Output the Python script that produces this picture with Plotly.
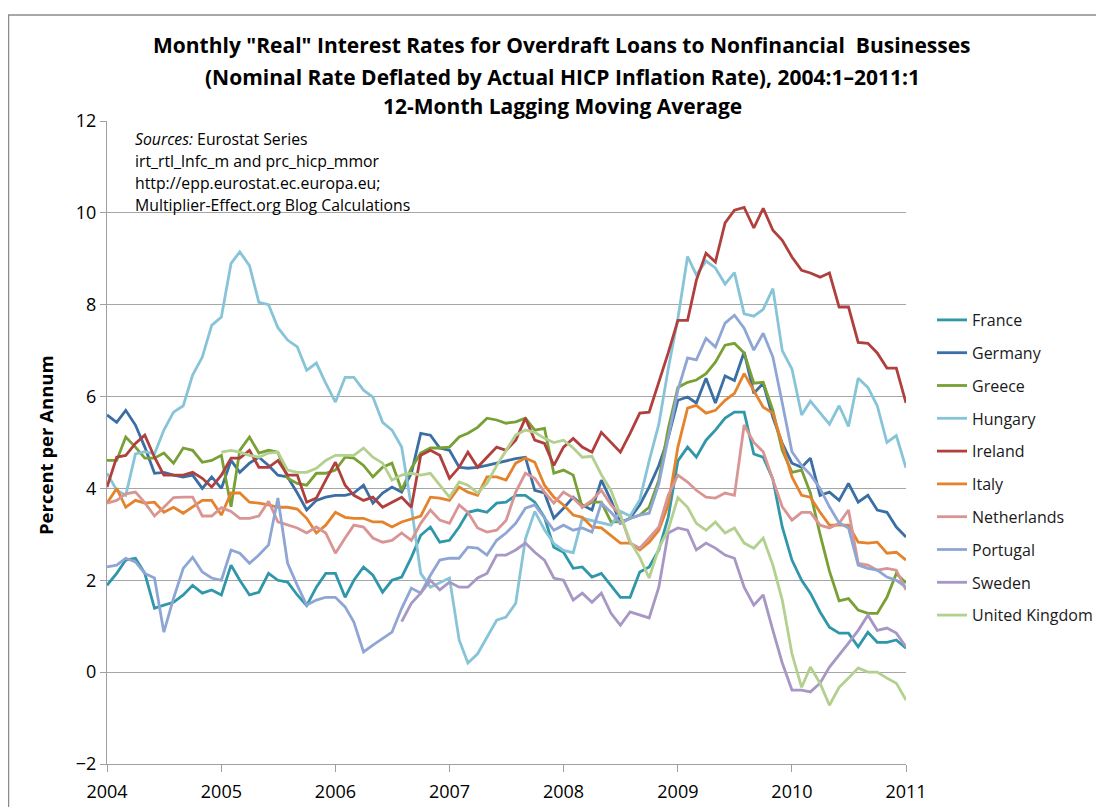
import plotly.graph_objects as go
import pandas as pd

months = pd.date_range("2004-01-01", "2011-01-01", freq="MS")

france = [1.89, 2.15, 2.44, 2.48, 2.15, 1.39, 1.46, 1.52, 1.68, 1.89, 1.72, 1.79,
          1.68, 2.33, 2.0, 1.68, 1.74, 2.15, 2.0, 1.96, 1.68, 1.45, 1.85, 2.15,
          2.15, 1.63, 2.0, 2.29, 2.11, 1.74, 2.0, 2.07, 2.5, 2.98, 3.16, 2.83,
          2.87, 3.16, 3.48, 3.53, 3.48, 3.68, 3.7, 3.85, 3.85, 3.7, 3.37, 2.72,
          2.61, 2.26, 2.29, 2.07, 2.15, 1.89, 1.63, 1.63, 2.18, 2.29, 2.66, 3.37,
          4.6, 4.9, 4.68, 5.05, 5.27, 5.53, 5.66, 5.66, 4.75, 4.68, 4.2, 3.16,
          2.44, 2.0, 1.72, 1.31, 0.98, 0.85, 0.85, 0.55, 0.87, 0.65, 0.65, 0.7, 0.52]

germany = [5.6, 5.44, 5.7, 5.38, 4.9, 4.33, 4.35, 4.29, 4.25, 4.29, 4.0, 4.25,
           4.0, 4.61, 4.35, 4.55, 4.68, 4.5, 4.29, 4.25, 3.9, 3.53, 3.74, 3.81,
           3.85, 3.85, 3.9, 4.07, 3.68, 3.9, 4.03, 3.92, 4.33, 5.2, 5.16, 4.88,
           4.83, 4.46, 4.44, 4.46, 4.5, 4.55, 4.61, 4.65, 4.68, 3.96, 3.9, 3.35,
           3.57, 3.81, 3.64, 3.53, 4.18, 3.74, 3.24, 3.35, 3.64, 4.03, 4.5, 5.1,
           5.92, 5.99, 5.86, 6.4, 5.86, 6.45, 6.35, 6.97, 6.07, 6.29, 5.55, 4.98,
           4.55, 4.46, 4.66, 3.85, 3.92, 3.74, 4.11, 3.7, 3.85, 3.53, 3.48, 3.16, 2.94]

greece = [4.61, 4.61, 5.12, 4.9, 4.66, 4.66, 4.77, 4.55, 4.88, 4.83, 4.57, 4.61,
          4.72, 3.6, 4.83, 5.12, 4.77, 4.83, 4.79, 4.22, 4.11, 4.07, 4.33, 4.33,
          4.4, 4.68, 4.66, 4.5, 4.25, 4.46, 4.55, 3.96, 4.44, 4.77, 4.88, 4.88,
          4.9, 5.12, 5.2, 5.33, 5.53, 5.49, 5.42, 5.45, 5.53, 5.27, 5.31, 4.33,
          4.4, 4.29, 3.59, 3.7, 3.7, 3.27, 3.27, 3.35, 3.42, 3.59, 4.18, 5.3,
          6.2, 6.31, 6.36, 6.5, 6.75, 7.12, 7.16, 6.95, 6.29, 6.31, 5.7, 4.83,
          4.35, 4.4, 3.9, 3.0, 2.2, 1.55, 1.6, 1.35, 1.28, 1.28, 1.63, 2.15, 1.94]

hungary = [4.33, 3.96, 3.85, 4.75, 4.8, 4.75, 5.27, 5.66, 5.8, 6.47, 6.86, 7.55,
           7.73, 8.9, 9.15, 8.85, 8.05, 8.0, 7.5, 7.23, 7.08, 6.57, 6.73, 6.29,
           5.88, 6.42, 6.42, 6.14, 5.99, 5.44, 5.27, 4.9, 3.6, 2.15, 1.85, 1.95,
           2.05, 0.7, 0.2, 0.4, 0.77, 1.13, 1.2, 1.5, 2.9, 3.5, 3.1, 2.8,
           2.65, 2.6, 3.35, 3.3, 3.25, 3.2, 3.5, 3.4, 3.75, 4.6, 5.4, 6.6,
           7.7, 9.05, 8.65, 8.95, 8.8, 8.45, 8.7, 7.8, 7.75, 7.9, 8.35, 7.0,
           6.6, 5.6, 5.9, 5.65, 5.4, 5.8, 5.35, 6.4, 6.2, 5.8, 5.0, 5.15, 4.45]

ireland = [4.03, 4.68, 4.72, 4.98, 5.16, 4.68, 4.29, 4.29, 4.29, 4.35, 4.22, 4.03,
           4.29, 4.66, 4.66, 4.83, 4.46, 4.46, 4.61, 4.29, 4.29, 3.7, 3.79, 4.18,
           4.57, 4.07, 3.85, 3.74, 3.81, 3.59, 3.7, 3.81, 3.59, 4.72, 4.83, 4.72,
           4.22, 4.46, 4.79, 4.46, 4.68, 4.9, 4.83, 5.05, 5.53, 5.05, 4.98, 4.5,
           4.9, 5.09, 4.9, 4.79, 5.22, 5.0, 4.79, 5.2, 5.64, 5.66, 6.3, 6.95,
           7.66, 7.66, 8.53, 9.12, 8.93, 9.78, 10.06, 10.12, 9.67, 10.1, 9.62, 9.4,
           9.04, 8.75, 8.69, 8.6, 8.69, 7.95, 7.95, 7.18, 7.16, 6.95, 6.62, 6.62, 5.86]

italy = [3.68, 4.0, 3.59, 3.74, 3.68, 3.7, 3.48, 3.59, 3.46, 3.59, 3.74, 3.74,
         3.42, 3.9, 3.9, 3.7, 3.68, 3.64, 3.59, 3.59, 3.55, 3.35, 3.03, 3.2,
         3.48, 3.37, 3.35, 3.35, 3.27, 3.27, 3.16, 3.27, 3.33, 3.4, 3.81, 3.79,
         3.74, 4.03, 3.92, 3.85, 4.25, 4.25, 4.18, 4.55, 4.66, 4.57, 4.07, 3.81,
         3.64, 3.42, 3.37, 3.16, 3.14, 2.98, 2.81, 2.81, 2.66, 2.83, 3.09, 3.64,
         4.9, 5.75, 5.81, 5.64, 5.7, 5.92, 6.07, 6.5, 6.14, 5.77, 5.64, 4.98,
         4.25, 3.85, 3.81, 3.48, 3.2, 3.2, 3.2, 2.83, 2.81, 2.83, 2.59, 2.61, 2.44]

netherlands = [3.68, 3.74, 3.88, 3.92, 3.69, 3.4, 3.59, 3.8, 3.81, 3.81, 3.4, 3.4,
               3.58, 3.5, 3.35, 3.35, 3.4, 3.72, 3.27, 3.2, 3.14, 3.03, 3.16, 3.03,
               2.59, 2.92, 3.2, 3.16, 2.92, 2.83, 2.87, 3.03, 2.87, 3.24, 3.53, 3.31,
               3.24, 3.64, 3.48, 3.14, 3.05, 3.09, 3.3, 3.92, 4.33, 4.22, 3.92, 3.68,
               3.92, 3.79, 3.59, 3.74, 3.96, 3.64, 3.42, 2.81, 2.7, 2.92, 3.16, 3.85,
               4.29, 4.14, 3.96, 3.81, 3.79, 3.9, 3.85, 5.38, 5.0, 4.8, 4.2, 3.6,
               3.31, 3.48, 3.48, 3.2, 3.14, 3.24, 3.53, 2.37, 2.33, 2.22, 2.26, 2.22, 1.79]

portugal = [2.29, 2.33, 2.48, 2.4, 2.15, 2.05, 0.87, 1.61, 2.26, 2.5, 2.18, 2.05,
            2.0, 2.66, 2.59, 2.37, 2.55, 2.77, 3.79, 2.37, 1.89, 1.46, 1.57, 1.63,
            1.63, 1.42, 1.09, 0.44, 0.59, 0.74, 0.87, 1.39, 1.83, 1.72, 2.11, 2.44,
            2.48, 2.48, 2.72, 2.7, 2.55, 2.87, 3.03, 3.24, 3.57, 3.64, 3.37, 3.09,
            3.2, 3.09, 3.14, 3.05, 3.68, 3.48, 3.24, 3.35, 3.42, 3.46, 4.1, 5.1,
            6.14, 6.84, 6.8, 7.27, 7.08, 7.6, 7.77, 7.49, 7.01, 7.38, 6.86, 5.86,
            4.8, 4.5, 4.3, 4.0, 3.6, 3.25, 3.14, 2.33, 2.26, 2.22, 2.07, 2.0, 1.85]

sweden = [None] * 31 + [1.1, 1.5, 1.72, 2.0, 1.79,
          1.96, 1.85, 1.85, 2.05, 2.15, 2.55, 2.55, 2.66, 2.81, 2.61, 2.44, 2.05,
          2.0, 1.57, 1.72, 1.52, 1.72, 1.28, 1.02, 1.31, 1.24, 1.18, 1.85, 3.03,
          3.14, 3.09, 2.66, 2.81, 2.7, 2.55, 2.48, 1.85, 1.46, 1.68, 0.91, 0.2,
          -0.39, -0.39, -0.43, -0.24, 0.11, 0.37, 0.63, 0.91, 1.24, 0.91, 0.96, 0.85, 0.55]

united_kingdom = [None] * 12 + [4.79, 4.83, 4.79, 4.72, 4.68, 4.77, 4.79, 4.4, 4.35, 4.35, 4.44, 4.61,
                  4.72, 4.72, 4.72, 4.88, 4.68, 4.55, 4.18, 4.29, 4.33, 4.29, 4.33, 4.07,
                  3.81, 4.14, 4.07, 3.9, 4.11, 4.5, 4.83, 5.16, 5.27, 5.22, 5.09, 5.0,
                  5.05, 4.88, 4.68, 4.7, 4.3, 3.95, 3.42, 2.85, 2.5, 2.05, 2.7, 3.1,
                  3.8, 3.59, 3.24, 3.09, 3.27, 3.03, 3.14, 2.81, 2.7, 2.92, 2.33, 1.57,
                  0.4, -0.33, 0.11, -0.24, -0.72, -0.33, -0.13, 0.09, 0.0, 0.0, -0.13, -0.24, -0.61]

series_names = ["France", "Germany", "Greece", "Hungary", "Ireland", "Italy",
                "Netherlands", "Portugal", "Sweden", "United Kingdom"]
series_values = [france, germany, greece, hungary, ireland, italy,
                 netherlands, portugal, sweden, united_kingdom]
series_colors = ["#2f97a9", "#3a6ea5", "#78a035", "#88c4d8", "#b0403e", "#e5832d",
                 "#d99594", "#8fa6d4", "#a797c4", "#b3d08f"]

y_ticks = [-2, 0, 2, 4, 6, 8, 10, 12]
x_tick_labels = ["2004", "2005", "2006", "2007", "2008", "2009", "2010", "2011"]

FONT = "Open Sans"

# page body has an 8px margin: work in screen coordinates and shift
OFF = 8
W, H = 1104 - OFF, 807 - OFF
PL, PR, PT, PB = 107 - OFF, 906 - OFF, 121 - OFF, 764 - OFF
PW, PH = PR - PL, PB - PT


def px(xs):
    return (xs - OFF - PL) / PW


def py(ys):
    return (PB - (ys - OFF)) / PH


fig = go.Figure()
for name, vals, col in zip(series_names, series_values, series_colors):
    fig.add_trace(go.Scatter(
        x=months, y=vals, mode="lines", name=name, legendgroup=name,
        line=dict(color=col, width=2.8), connectgaps=False,
    ))

tick_dates = [pd.Timestamp(f"{y}-01-01") for y in x_tick_labels]

fig.update_layout(
    width=W, height=H,
    margin=dict(l=PL, r=W - PR, t=PT, b=H - PB, autoexpand=False),
    paper_bgcolor="white", plot_bgcolor="white",
    font=dict(family=FONT, color="#000000"),
    showlegend=True,
    legend=dict(xref="container", yref="container",
                x=(932 - OFF) / W, y=1 - (303 - OFF) / H,
                xanchor="left", yanchor="top",
                font=dict(size=16, family=FONT, color="#1a1a1a"),
                tracegroupgap=9, itemwidth=30, bgcolor="rgba(0,0,0,0)"),
    xaxis=dict(
        type="date", automargin=False,
        range=[tick_dates[0], tick_dates[-1]],
        tickvals=tick_dates, ticktext=x_tick_labels,
        showgrid=False, showline=True, linecolor="#a0a0a0", linewidth=1,
        ticks="outside", ticklen=7, tickcolor="#a0a0a0",
        tickfont=dict(size=18, family=FONT, color="#000"),
        ticklabelstandoff=4,
        zeroline=False,
    ),
    yaxis=dict(
        automargin=False,
        range=[-2, 12], tickvals=y_ticks,
        showgrid=True, gridcolor="#a6a6a6", gridwidth=1,
        showline=True, linecolor="#a0a0a0", linewidth=1,
        ticks="outside", ticklen=6, tickcolor="#a0a0a0",
        tickfont=dict(size=18, family=FONT, color="#000"),
        ticklabelstandoff=0,
        zeroline=False,
    ),
)

# y-axis title
fig.add_annotation(text="<b>Percent per Annum</b>", xref="paper", yref="paper",
                   x=px(45), y=py(445), xanchor="center", yanchor="middle",
                   textangle=-90, showarrow=False,
                   font=dict(size=18.5, family=FONT, color="#000"))

title_lines = [
    'Monthly "Real" Interest Rates for Overdraft Loans to Nonfinancial  Businesses',
    '(Nominal Rate Deflated by Actual HICP Inflation Rate), 2004:1\u20132011:1',
    '12-Month Lagging Moving Average',
]
title_y = [45, 77, 106]
for t, yy in zip(title_lines, title_y):
    fig.add_annotation(text=f"<b>{t}</b>", xref="paper", yref="paper",
                       x=px(562), y=py(yy),
                       xanchor="center", yanchor="middle", showarrow=False,
                       font=dict(size=21, family=FONT, color="#000"))

source_lines = [
    "<i>Sources:</i> Eurostat Series",
    "irt_rtl_lnfc_m and prc_hicp_mmor",
    "http://epp.eurostat.ec.europa.eu;",
    "Multiplier-Effect.org Blog Calculations",
]
source_y = [139, 161, 183, 205]
for t, yy in zip(source_lines, source_y):
    fig.add_annotation(text=t, xref="paper", yref="paper",
                       x=px(133), y=py(yy),
                       xanchor="left", yanchor="middle", showarrow=False,
                       font=dict(size=15.8, family=FONT, color="#000"))

# outer chart frame
fig.add_shape(type="rect", xref="paper", yref="paper",
              x0=px(8.5), x1=px(1130),
              y0=py(830), y1=py(15),
              line=dict(color="#8c8c8c", width=1.5), layer="below")

fig.write_html("out.html")
